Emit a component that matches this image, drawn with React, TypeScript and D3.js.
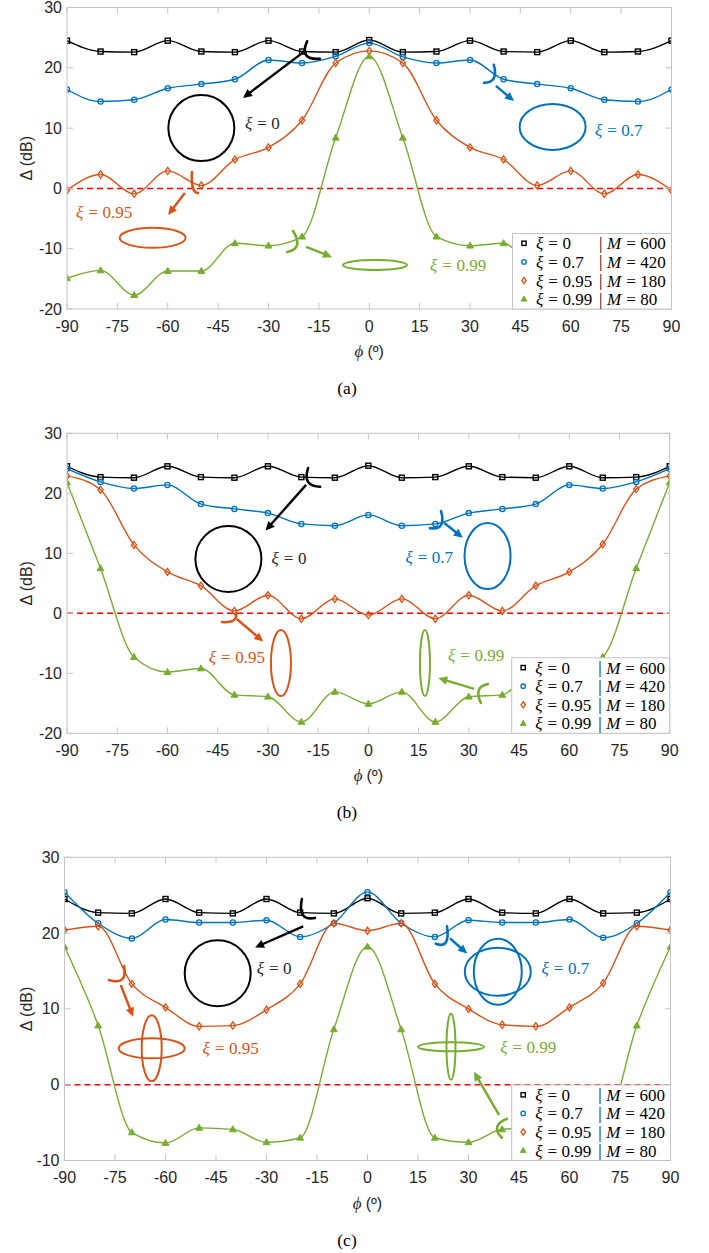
import React from 'react';
import * as d3 from 'd3';

// Azimuth samples (degrees) shared by every curve
const PHI_DEG = [-90, -80, -70, -60, -50, -40, -30, -20, -10, 0, 10, 20, 30, 40, 50, 60, 70, 80, 90];
const X_TICKS = [-90, -75, -60, -45, -30, -15, 0, 15, 30, 45, 60, 75, 90];
const Y_TICKS_AB = [-20, -10, 0, 10, 20, 30];
const Y_TICKS_C = [-10, 0, 10, 20, 30];

const XI_VALUES = ['0', '0.7', '0.95', '0.99'];
const M_VALUES = ['600', '420', '180', '80'];

// Δ (dB) for ξ = 0 — identical in all three configurations
const DELTA_XI0 = [24.5, 22.7, 22.6, 24.5, 22.7, 22.6, 24.5, 22.7, 22.6, 24.6, 22.6, 22.7, 24.5, 22.7, 22.6, 24.5, 22.6, 22.7, 24.5];

// (a)
const DELTA_A_XI07 = [16.4, 14.4, 14.7, 16.6, 17.3, 18.1, 21.3, 20.8, 21.9, 24.1, 21.8, 20.8, 21.3, 18.1, 17.3, 16.6, 14.7, 14.4, 16.4];
const DELTA_A_XI095 = [-0.3, 2.3, -0.9, 2.9, 0.5, 4.8, 6.8, 11.3, 20.8, 22.8, 20.8, 11.3, 6.8, 4.8, 0.5, 2.9, -0.9, 2.3, -0.3];
const DELTA_A_XI099 = [-14.9, -13.6, -17.7, -13.7, -13.7, -9.1, -9.5, -8.0, 8.4, 21.9, 8.4, -8.0, -9.5, -9.1, -13.7, -13.7, -17.7, -13.6, -14.9];

// (b)
const DELTA_B_XI07 = [24.1, 21.9, 20.8, 21.4, 18.2, 17.4, 16.7, 14.9, 14.6, 16.4, 14.6, 14.9, 16.7, 17.4, 18.2, 21.4, 20.8, 21.9, 24.1];
const DELTA_B_XI095 = [22.9, 20.6, 11.4, 6.9, 4.6, 0.4, 3.0, -0.9, 2.4, -0.3, 2.4, -0.9, 3.0, 0.4, 4.6, 6.9, 11.5, 20.7, 22.9];
const DELTA_B_XI099 = [21.8, 7.5, -7.3, -9.8, -9.2, -13.6, -13.9, -18.1, -13.1, -15.1, -13.1, -18.1, -13.9, -13.6, -9.2, -9.8, -7.3, 7.5, 21.8];

// (c)
const DELTA_C_XI07 = [25.4, 21.3, 19.3, 21.8, 21.4, 21.4, 21.7, 19.5, 21.3, 25.4, 21.3, 19.5, 21.7, 21.4, 21.4, 21.8, 19.4, 21.3, 25.4];
const DELTA_C_XI095 = [20.4, 20.9, 13.3, 10.2, 7.7, 7.8, 9.9, 13.3, 21.3, 20.3, 21.3, 13.3, 10.0, 7.9, 7.7, 10.2, 13.4, 20.9, 20.4];
const DELTA_C_XI099 = [18.2, 7.8, -6.3, -7.7, -5.7, -5.9, -7.6, -7.0, 7.3, 18.2, 7.3, -7.0, -7.6, -5.9, -5.7, -7.7, -6.3, 7.8, 18.2];

const COLORS = ['#000000', '#0072BD', '#D95319', '#77AC30'];
const LABEL_COLORS = ['#262626', '#0072BD', '#D95319', '#77AC30'];
const MARKERS = ['square', 'circle', 'diamond', 'triangle'];

const SANS = "'Liberation Sans', Arial, Helvetica, sans-serif";
const SERIF = "'Liberation Serif', 'Times New Roman', serif";
const AXIS_GRAY = '#c4c4c4';
const TEXT_DARK = '#262626';

type Pt = [number, number];
type Note = {
  s: number;
  arc: [Pt, Pt, Pt];
  arrow: [Pt, Pt];
  shape: Pt;
  radii: Pt[];
  label: Pt;
  anchor: 'start' | 'end';
};

// Annotation geometry in data units (φ in degrees, Δ in dB)
const NOTES_A: Note[] = [
  { s: 0, arc: [[-18.5, 24.4], [-18.8, 22.1], [-14.7, 21.5]], arrow: [[-19.1, 22.8], [-37.6, 15.0]], shape: [-50, 10], radii: [[33, 33]], label: [-37.0, 10.85], anchor: 'start' },
  { s: 1, arc: [[37.1, 20.5], [37.1, 18.3], [34.2, 17.5]], arrow: [[37.7, 17.0], [43.1, 14.5]], shape: [54.6, 10.2], radii: [[33, 23]], label: [67.2, 9.7], anchor: 'start' },
  { s: 2, arc: [[-52.8, 2.7], [-52.5, 0.07], [-51.0, -0.76]], arrow: [[-54.9, -0.76], [-59.9, -4.4]], shape: [-64.5, -8.2], radii: [[33, 10]], label: [-87.3, -3.9], anchor: 'start' },
  { s: 3, arc: [[-22.7, -7.06], [-21.5, -9.39], [-24.5, -10.55]], arrow: [[-18.8, -9.7], [-11.1, -11.4]], shape: [1.7, -12.7], radii: [[32, 5]], label: [18.1, -12.7], anchor: 'start' },
];

const NOTES_B: Note[] = [
  { s: 0, arc: [[-18.0, 24.2], [-18.0, 21.9], [-14.4, 21.1]], arrow: [[-18.6, 21.4], [-30.7, 13.8]], shape: [-41.8, 9.05], radii: [[33, 33]], label: [-28.9, 9.2], anchor: 'start' },
  { s: 1, arc: [[21.7, 17.05], [21.7, 14.7], [18.4, 14.2]], arrow: [[22.6, 15.1], [28.2, 12.6]], shape: [35.6, 9.55], radii: [[23, 33]], label: [25.3, 9.45], anchor: 'end' },
  { s: 2, arc: [[-39.5, 0.05], [-40.3, -1.2], [-43.7, -1.45]], arrow: [[-39.3, -0.95], [-31.4, -4.7]], shape: [-26.1, -8.3], radii: [[10, 33]], label: [-30.9, -7.3], anchor: 'end' },
  { s: 3, arc: [[35.7, -11.8], [33.0, -12.8], [33.6, -14.95]], arrow: [[31.6, -12.6], [20.9, -10.8]], shape: [16.9, -8.3], radii: [[5, 33]], label: [23.8, -6.95], anchor: 'start' },
];

const NOTES_C: Note[] = [
  { s: 0, arc: [[-19.5, 24.5], [-19.2, 22.4], [-15.6, 22.0]], arrow: [[-19.1, 20.9], [-33.4, 18.1]], shape: [-44.5, 14.7], radii: [[33, 33]], label: [-32.9, 15.35], anchor: 'start' },
  { s: 1, arc: [[23.6, 20.9], [23.3, 18.8], [20.3, 18.6]], arrow: [[24.5, 19.3], [29.6, 17.3]], shape: [38.7, 14.9], radii: [[33, 24], [24, 33]], label: [51.7, 15.4], anchor: 'start' },
  { s: 2, arc: [[-72.3, 15.66], [-72.9, 13.9], [-76.8, 13.8]], arrow: [[-73.3, 13.15], [-69.6, 8.97]], shape: [-64.1, 4.8], radii: [[33, 10], [10, 33]], label: [-49.0, 4.84], anchor: 'start' },
  { s: 3, arc: [[41.4, -4.5], [38.5, -5.6], [39.9, -7.0]], arrow: [[39.1, -4.0], [31.6, 1.7]], shape: [24.8, 5.0], radii: [[33, 4.5], [4.5, 33]], label: [39.4, 5.0], anchor: 'start' },
];

type PanelSpec = {
  key: string;
  caption: string;
  left: number;
  right: number;
  top: number;
  bottom: number;
  yMin: number;
  yTicks: number[];
  legendLeft: number;
  series: number[][];
  notes: Note[];
};

const PANELS: PanelSpec[] = [
  { key: 'a', caption: '(a)', left: 67, right: 671.5, top: 7.5, bottom: 309, yMin: -20, yTicks: Y_TICKS_AB, legendLeft: 512.5,
    series: [DELTA_XI0, DELTA_A_XI07, DELTA_A_XI095, DELTA_A_XI099], notes: NOTES_A },
  { key: 'b', caption: '(b)', left: 67, right: 669.7, top: 433.3, bottom: 733.3, yMin: -20, yTicks: Y_TICKS_AB, legendLeft: 511.7,
    series: [DELTA_XI0, DELTA_B_XI07, DELTA_B_XI095, DELTA_B_XI099], notes: NOTES_B },
  { key: 'c', caption: '(c)', left: 64.5, right: 670.5, top: 857.3, bottom: 1160.5, yMin: -10, yTicks: Y_TICKS_C, legendLeft: 511.7,
    series: [DELTA_XI0, DELTA_C_XI07, DELTA_C_XI095, DELTA_C_XI099], notes: NOTES_C },
];

function Marker({ kind, cx, cy, color, k = 1 }: { kind: string; cx: number; cy: number; color: string; k?: number }) {
  if (kind === 'square') {
    const h = 2.5 * k;
    return <rect x={cx - h} y={cy - h} width={2 * h} height={2 * h} fill="none" stroke={color} strokeWidth={1.4} />;
  }
  if (kind === 'circle') {
    return <circle cx={cx} cy={cy} r={2.6 * k} fill="none" stroke={color} strokeWidth={1.3} />;
  }
  if (kind === 'diamond') {
    const a = 3.6 * k, b = 2.6 * k;
    return <path d={`M${cx},${cy - a}L${cx + b},${cy}L${cx},${cy + a}L${cx - b},${cy}Z`} fill="none" stroke={color} strokeWidth={1.3} />;
  }
  const t = 3.6 * k, w = 3.4 * k;
  return <path d={`M${cx},${cy - t}L${cx + w},${cy + t * 0.66}L${cx - w},${cy + t * 0.66}Z`} fill={color} stroke={color} strokeWidth={1} strokeLinejoin="round" />;
}

function Arrow({ x1, y1, x2, y2, color }: { x1: number; y1: number; x2: number; y2: number; color: string }) {
  const dx = x2 - x1, dy = y2 - y1;
  const len = Math.hypot(dx, dy);
  const ux = dx / len, uy = dy / len;
  const hl = 9, hw = 4.3;
  const bx = x2 - ux * hl, by = y2 - uy * hl;
  return (
    <g>
      <line x1={x1} y1={y1} x2={bx + ux * 1} y2={by + uy * 1} stroke={color} strokeWidth={2.4} />
      <path d={`M${x2},${y2}L${bx - uy * hw},${by + ux * hw}L${bx + uy * hw},${by - ux * hw}Z`} fill={color} />
    </g>
  );
}

// "sym = value" set in math style: italic symbol, upright relation and number
function MathEq({ sym, value }: { sym: string; value: string }) {
  return (
    <>
      <tspan fontStyle="italic">{sym}</tspan>
      <tspan dx={5}>=</tspan>
      <tspan dx={4.5}>{value}</tspan>
    </>
  );
}

function Panel({ p }: { p: PanelSpec }) {
  const x = d3.scaleLinear().domain([-90, 90]).range([p.left, p.right]);
  const y = d3.scaleLinear().domain([p.yMin, 30]).range([p.bottom, p.top]);
  const line = d3
    .line<number>()
    .x((_, i) => x(PHI_DEG[i]))
    .y((d) => y(d))
    .curve(d3.curveMonotoneX);
  const clipId = `clip-${p.key}`;
  const cx = (p.left + p.right) / 2;
  const cy = (p.top + p.bottom) / 2;
  const tick = 6;

  const legendTop = p.bottom - 75.5;
  const rowY = (i: number) => legendTop + 9.8 + i * 18.6;

  return (
    <g>
      <defs>
        <clipPath id={clipId}>
          <rect x={p.left} y={p.top} width={p.right - p.left} height={p.bottom - p.top} />
        </clipPath>
      </defs>

      {/* reference level */}
      <line x1={p.left} x2={p.right} y1={y(0)} y2={y(0)} stroke="#ff0000" strokeWidth={1.5} strokeDasharray="6 4" />

      {/* curves */}
      <g clipPath={`url(#${clipId})`}>
        {p.series.map((vals, s) => (
          <g key={s}>
            <path d={line(vals) || ''} fill="none" stroke={COLORS[s]} strokeWidth={1.4} />
            {vals.map((v, i) => (
              <Marker key={i} kind={MARKERS[s]} cx={x(PHI_DEG[i])} cy={y(v)} color={COLORS[s]} />
            ))}
          </g>
        ))}
      </g>

      {/* polarization annotations */}
      {p.notes.map((n, i) => {
        const col = COLORS[n.s];
        const [a0, am, a1] = n.arc.map(([f, v]) => [x(f), y(v)]);
        const ctrl = [2 * am[0] - (a0[0] + a1[0]) / 2, 2 * am[1] - (a0[1] + a1[1]) / 2];
        const [ar0, ar1] = n.arrow.map(([f, v]) => [x(f), y(v)]);
        const sx = x(n.shape[0]), sy = y(n.shape[1]);
        return (
          <g key={i}>
            <path d={`M${a0[0]},${a0[1]}Q${ctrl[0]},${ctrl[1]} ${a1[0]},${a1[1]}`} fill="none" stroke={col} strokeWidth={2.6} strokeLinecap="round" />
            <Arrow x1={ar0[0]} y1={ar0[1]} x2={ar1[0]} y2={ar1[1]} color={col} />
            {n.radii.map(([rx, ry], j) => (
              <ellipse key={j} cx={sx} cy={sy} rx={rx} ry={ry} fill="none" stroke={col} strokeWidth={2} />
            ))}
            <text x={x(n.label[0])} y={y(n.label[1])} fontFamily={SERIF} fontSize={17} fill={LABEL_COLORS[n.s]}
              textAnchor={n.anchor} dominantBaseline="central">
              <MathEq sym="ξ" value={XI_VALUES[n.s]} />
            </text>
          </g>
        );
      })}

      {/* frame and ticks */}
      <rect x={p.left} y={p.top} width={p.right - p.left} height={p.bottom - p.top} fill="none" stroke={AXIS_GRAY} strokeWidth={1} />
      {X_TICKS.map((t) => (
        <g key={`x${t}`}>
          <line x1={x(t)} x2={x(t)} y1={p.bottom} y2={p.bottom - tick} stroke={AXIS_GRAY} />
          <line x1={x(t)} x2={x(t)} y1={p.top} y2={p.top + tick} stroke={AXIS_GRAY} />
          <text x={x(t)} y={p.bottom + 17} fontFamily={SANS} fontSize={16} fill={TEXT_DARK} textAnchor="middle" dominantBaseline="central">
            {t}
          </text>
        </g>
      ))}
      {p.yTicks.map((t) => (
        <g key={`y${t}`}>
          <line x1={p.left} x2={p.left + tick} y1={y(t)} y2={y(t)} stroke={AXIS_GRAY} />
          <line x1={p.right} x2={p.right - tick} y1={y(t)} y2={y(t)} stroke={AXIS_GRAY} />
          <text x={p.left - 5} y={y(t)} fontFamily={SANS} fontSize={16} fill={TEXT_DARK} textAnchor="end" dominantBaseline="central">
            {t}
          </text>
        </g>
      ))}

      {/* axis titles */}
      <text x={cx} y={p.bottom + 42} fontSize={16} fill={TEXT_DARK} textAnchor="middle" dominantBaseline="central">
        <tspan fontFamily={SERIF} fontStyle="italic" fontSize={17}>ϕ</tspan>
        <tspan fontFamily={SANS} dx={4}>(º)</tspan>
      </text>
      <text transform={`translate(26,${cy}) rotate(-90)`} fontFamily={SANS} fontSize={16} fill={TEXT_DARK} textAnchor="middle" dominantBaseline="central">
        Δ (dB)
      </text>

      {/* legend */}
      <rect x={p.legendLeft} y={legendTop} width={p.right - p.legendLeft} height={p.bottom - legendTop} fill="#ffffff" stroke={AXIS_GRAY} strokeWidth={1} />
      {XI_VALUES.map((xi, i) => (
        <g key={`lg${i}`}>
          <Marker kind={MARKERS[i]} cx={p.legendLeft + 11.5} cy={rowY(i)} color={COLORS[i]} k={0.85} />
          <text x={p.legendLeft + 23.5} y={rowY(i)} fontFamily={SERIF} fontSize={17} fill="#000" dominantBaseline="central">
            <MathEq sym="ξ" value={xi} />
          </text>
          <text x={p.legendLeft + 86.5} y={rowY(i)} fontFamily={SERIF} fontSize={17} fill="#000" dominantBaseline="central">|</text>
          <text x={p.legendLeft + 94.5} y={rowY(i)} fontFamily={SERIF} fontSize={17} fill="#000" dominantBaseline="central">
            <MathEq sym="M" value={M_VALUES[i]} />
          </text>
        </g>
      ))}

      {/* caption */}
      <text x={347} y={p.bottom + 79} fontFamily={SERIF} fontSize={17.5} fill="#000" textAnchor="middle" dominantBaseline="central">
        {p.caption}
      </text>
    </g>
  );
}

export default function App() {
  return (
    <svg width={709} height={1253} viewBox="0 0 709 1253" style={{ position: 'absolute', left: 0, top: 0, display: 'block' }}>
      <rect x={0} y={0} width={709} height={1253} fill="#ffffff" />
      {PANELS.map((p) => (
        <Panel key={p.key} p={p} />
      ))}
    </svg>
  );
}
